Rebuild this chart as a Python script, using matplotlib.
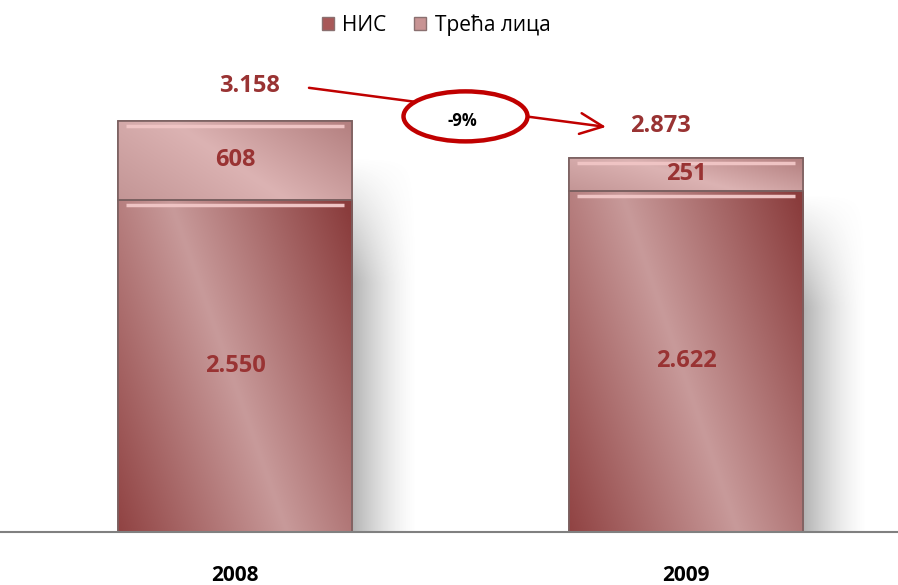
import numpy as np
import matplotlib
matplotlib.use("Agg")
import matplotlib.pyplot as plt
from matplotlib.patches import Patch, Ellipse
from matplotlib.colors import to_rgb
from matplotlib import transforms

# data
years = ["2008", "2009"]
nis = [2550, 2622]
third = [608, 251]
series_names = ["НИС", "Трећа лица"]
change_label = "-9%"

LABEL_RED = "#993333"
ARROW_RED = "#c00000"

plt.rcParams.update({
    "font.family": ["Open Sans", "DejaVu Sans"],
    "font.size": 15,
})


def fmt(v):
    return f"{v:,}".replace(",", ".")


def gradient(light, left, right, n=200):
    """Diagonal light band running from upper-left to lower-right."""
    yy, xx = np.mgrid[1:0:n * 1j, 0:1:n * 1j]
    u = xx - (0.22 + 0.5 * (1 - yy))
    tl = np.clip(-u / 0.75, 0, 1)[..., None]
    tr = np.clip(u / 0.75, 0, 1)[..., None]
    light, left, right = (np.array(to_rgb(c)) for c in (light, left, right))
    return light * (1 - tl - tr) + left * tl + right * tr


fig = plt.figure(figsize=(8.98, 5.85), dpi=100)
H = 585.0
ymax = 4000
ax = fig.add_axes([0, 53 / H, 1, 520.8 / H])
ax.set_xlim(-0.521, 1.470)
ax.set_ylim(0, ymax)
upp = ymax / 520.8          # data units per pixel (y)
xpp = 1.991 / 898           # data units per pixel (x)

x = np.arange(len(years))
width = 0.519
totals = [a + b for a, b in zip(nis, third)]

# soft shadow to the right of each bar
for xi, tot in zip(x, totals):
    sh = np.zeros((60, 120, 4))
    sh[..., :3] = 0.45
    fx = np.linspace(0, 1, 120)[None, :]
    fy = np.linspace(0, 1, 60)[:, None]
    sh[..., 3] = 0.55 * (1 - fx) ** 1.5 * np.clip(fy * 3, 0, 1)
    ax.imshow(sh, extent=(xi + width / 2, xi + width / 2 + 65 * xpp, 0, tot - 35 * upp),
              aspect="auto", zorder=1, interpolation="bilinear")

b1 = ax.bar(x, nis, width, color="#b06a6a", edgecolor="#7d6262", lw=1.2, zorder=2,
            label=series_names[0])
b2 = ax.bar(x, third, width, bottom=nis, color="#d0a4a4", edgecolor="#7d6262", lw=1.2,
            zorder=2, label=series_names[1])

g1 = gradient("#c89a9a", "#8e3f3f", "#8a3c3c")
g2 = gradient("#dcb3b3", "#c29494", "#b48080")
for bars, g in ((b1, g1), (b2, g2)):
    for p in bars:
        bb = p.get_bbox()
        im = ax.imshow(g, extent=(bb.x0, bb.x1, bb.y0, bb.y1), aspect="auto",
                       zorder=2.5, interpolation="bilinear")
        im.set_clip_path(p)
        # bevel highlight
        ax.hlines(bb.y1 - 5 * upp, bb.x0 + 8 * xpp, bb.x1 - 8 * xpp,
                  color="#efc4c4", lw=2.5, zorder=3)
        ax.add_patch(plt.Rectangle((bb.x0, bb.y0), bb.width, bb.height, fill=False,
                                   edgecolor="#7a6060", lw=1.2, zorder=3.5))

# segment labels
for xi, a, b in zip(x, nis, third):
    ax.text(xi, a / 2, fmt(a), ha="center", va="center", color=LABEL_RED,
            fontsize=17, fontweight="bold", zorder=5)
    ax.text(xi, a + b / 2, fmt(b), ha="center", va="center", color=LABEL_RED,
            fontsize=17, fontweight="bold", zorder=5)

# totals
ax.annotate(fmt(totals[0]), (x[0], totals[0]), xytext=(15, 35), textcoords="offset pixels",
            ha="center", va="center", color=LABEL_RED, fontsize=17, fontweight="bold")
ax.annotate(fmt(totals[1]), (x[1], totals[1]), xytext=(-26, 32), textcoords="offset pixels",
            ha="center", va="center", color=LABEL_RED, fontsize=17, fontweight="bold")

# change arrow with ellipse
start = (x[0] + 74 * xpp, totals[0] + 33 * upp)
end = (x[1] - 80 * xpp, totals[1] + 31 * upp)
ax.annotate("", xy=end, xytext=start,
            arrowprops=dict(arrowstyle="->,head_length=1.1,head_width=0.5",
                            color=ARROW_RED, lw=1.8, shrinkA=0, shrinkB=0),
            zorder=6)
mid = ((x[0] + x[1]) / 2, (totals[0] + totals[1]) / 2)
cx, cy = ax.transData.transform(mid)
ell = Ellipse((cx + 5, cy + 23), 124, 50, transform=transforms.IdentityTransform(),
              facecolor="white", edgecolor=ARROW_RED, lw=3.2, zorder=7)
ax.add_patch(ell)
ell.set_clip_on(False)
ax.text(cx + 2, cy + 18, change_label, transform=transforms.IdentityTransform(),
        ha="center", va="center", fontsize=12, fontweight="bold", color="black", zorder=8)

# axes styling
for s in ("top", "right", "left"):
    ax.spines[s].set_visible(False)
ax.spines["bottom"].set_color("#808080")
ax.spines["bottom"].set_linewidth(1.5)
ax.spines["bottom"].set_zorder(4)
ax.set_yticks([])
ax.set_xticks(x)
ax.set_xticklabels(years, fontsize=15, fontweight="bold")
ax.tick_params(axis="x", length=0, pad=24)
ax.patch.set_alpha(0)

handles = [Patch(facecolor="#a85858", edgecolor="#8a7070", label=series_names[0]),
           Patch(facecolor="#c89494", edgecolor="#8a7070", label=series_names[1])]
fig.legend(handles=handles, loc="center", bbox_to_anchor=(436 / 898, 1 - 25 / H),
           ncol=2, frameon=False, fontsize=15, handlelength=0.6, handleheight=0.6,
           handletextpad=0.4, columnspacing=1.3)

fig.savefig("out.png", dpi=100, facecolor="white")
